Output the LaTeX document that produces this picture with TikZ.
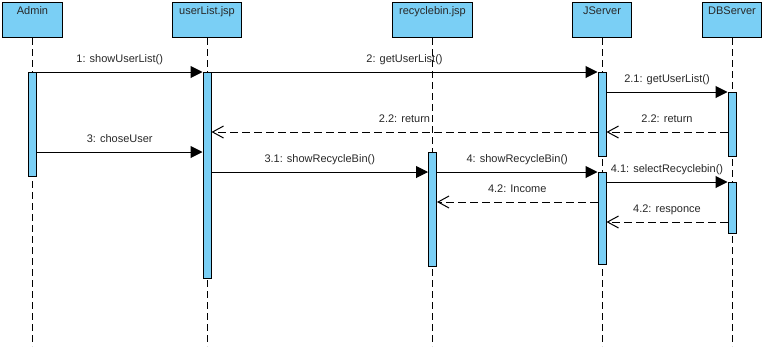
\documentclass[tikz,border=0pt]{standalone}
\usepackage{fontspec}
\setmainfont{Liberation Sans}
\usetikzlibrary{arrows.meta}
\definecolor{actfill}{RGB}{122,207,245}
\definecolor{txt}{RGB}{40,40,40}

\begin{document}
\begin{tikzpicture}[x=1pt,y=-1pt,
  font=\fontsize{11pt}{13pt}\selectfont,
  objbox/.style={draw, fill=actfill, line width=1pt, anchor=north west, inner sep=0pt, minimum height=35pt},
  objname/.style={anchor=base, inner sep=0pt, text=txt},
  lifeline/.style={line width=0.9pt, dash pattern=on 7pt off 4pt},
  actbar/.style={draw, fill=actfill, line width=1pt, anchor=north, inner sep=0pt, minimum width=8pt},
  call/.style={line width=1pt, -{Triangle[length=12pt,width=12pt]}},
  reply/.style={line width=1pt, dash pattern=on 8pt off 4pt, -{Straight Barb[length=11pt,width=12pt]}},
  msglabel/.style={anchor=base, yshift=10pt, inner sep=0pt, text=txt}
]
\useasboundingbox (0,0) rectangle (766,346);

% participants
\node[objbox, minimum width=60pt] (admin) at (2,2) {};
\node[objbox, minimum width=69pt] (ulist) at (172,2) {};
\node[objbox, minimum width=80pt] (rbin)  at (392,2) {};
\node[objbox, minimum width=59pt] (jsrv)  at (572,2) {};
\node[objbox, minimum width=59pt] (dbsrv) at (702,2) {};

\node[objname] (adminT) at (admin.north |- 0,14.3) {Admin};
\node[objname] (ulistT) at (ulist.north |- 0,14.3) {userList.jsp};
\node[objname] (rbinT)  at (rbin.north |- 0,14.3) {recyclebin.jsp};
\node[objname] (jsrvT)  at (jsrv.north |- 0,14.3) {JServer};
\node[objname] (dbsrvT) at (dbsrv.north |- 0,14.3) {DBServer};

% lifelines
\coordinate (adminEnd) at (admin.south |- 0,346);
\coordinate (ulistEnd) at (ulist.south |- 0,346);
\coordinate (rbinEnd)  at (rbin.south |- 0,346);
\coordinate (jsrvEnd)  at (jsrv.south |- 0,346);
\coordinate (dbsrvEnd) at (dbsrv.south |- 0,346);
\draw[lifeline] (admin.south) -- (adminEnd);
\draw[lifeline] (ulist.south) -- (ulistEnd);
\draw[lifeline] (rbin.south) -- (rbinEnd);
\draw[lifeline] (jsrv.south) -- (jsrvEnd);
\draw[lifeline] (dbsrv.south) -- (dbsrvEnd);

% activation bars
\node[actbar, minimum height=104pt] (adminA) at (admin.south |- 0,72) {};
\node[actbar, minimum height=206pt] (ulistA) at (ulist.south |- 0,72) {};
\node[actbar, minimum height=114pt] (rbinA)  at (rbin.south |- 0,152) {};
\node[actbar, minimum height=84pt]  (jsrvA)  at (jsrv.south |- 0,72) {};
\node[actbar, minimum height=92pt]  (jsrvB)  at (jsrv.south |- 0,172) {};
\node[actbar, minimum height=64pt]  (dbsrvA) at (dbsrv.south |- 0,92) {};
\node[actbar, minimum height=51pt]  (dbsrvB) at (dbsrv.south |- 0,182) {};

% messages
\draw[call] (adminA.east |- 0,72) -- node[msglabel] {1: showUserList()} (ulistA.west |- 0,72);
\draw[call] (ulistA.east |- 0,72) -- node[msglabel] {2: getUserList()} (jsrvA.west |- 0,72);
\draw[call] (jsrvA.east |- 0,92) -- node[msglabel] {2.1: getUserList()} (dbsrvA.west |- 0,92);
\draw[reply] (dbsrvA.west |- 0,132) -- node[msglabel] {2.2: return} (jsrvA.east |- 0,132);
\draw[reply] (jsrvA.west |- 0,132) -- node[msglabel] {2.2: return} (ulistA.east |- 0,132);
\draw[call] (adminA.east |- 0,152) -- node[msglabel] {3: choseUser} (ulistA.west |- 0,152);
\draw[call] (ulistA.east |- 0,172) -- node[msglabel] {3.1: showRecycleBin()} (rbinA.west |- 0,172);
\draw[call] (rbinA.east |- 0,172) -- node[msglabel] {4: showRecycleBin()} (jsrvB.west |- 0,172);
\draw[call] (jsrvB.east |- 0,182) -- node[msglabel] {4.1: selectRecyclebin()} (dbsrvB.west |- 0,182);
\draw[reply] (jsrvB.west |- 0,202) -- node[msglabel] {4.2: Income} (rbinA.east |- 0,202);
\draw[reply] (dbsrvB.west |- 0,222) -- node[msglabel] {4.2: responce} (jsrvB.east |- 0,222);
\end{tikzpicture}
\end{document}
